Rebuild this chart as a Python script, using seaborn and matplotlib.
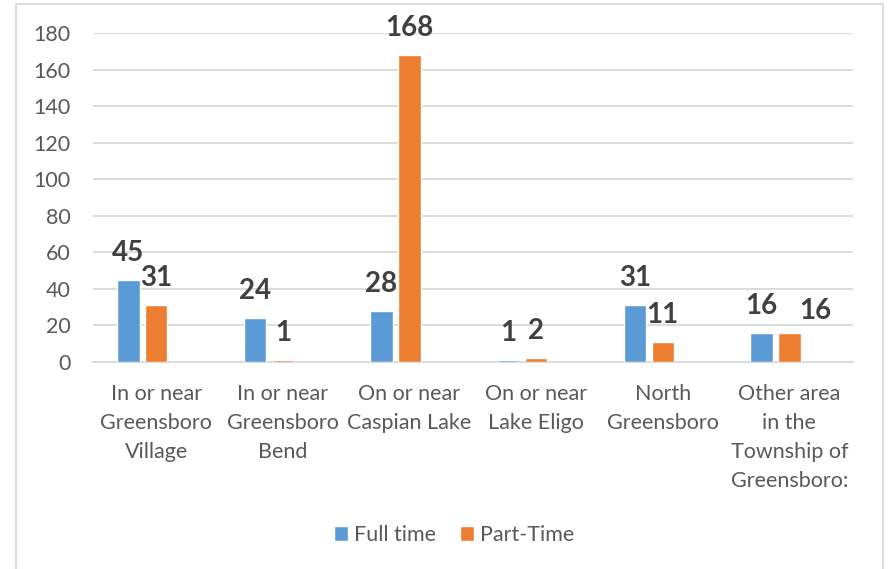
import numpy as np
import pandas as pd
import matplotlib
matplotlib.use("Agg")
import matplotlib.pyplot as plt
from matplotlib.patches import Rectangle
import seaborn as sns

categories = [
    "In or near\nGreensboro\nVillage",
    "In or near\nGreensboro\nBend",
    "On or near\nCaspian Lake",
    "On or near\nLake Eligo",
    "North\nGreensboro",
    "Other area\nin the\nTownship of\nGreensboro:",
]
full_time = [45, 24, 28, 1, 31, 16]
part_time = [31, 1, 168, 2, 11, 16]
series = ["Full time", "Part-Time", "_pad"]  # Excel leaves an empty third slot

sns.set_theme(style="white")
plt.rcParams["font.family"] = ["Lato", "DejaVu Sans"]

rows = []
for c, f, p in zip(categories, full_time, part_time):
    rows.append({"area": c, "series": "Full time", "count": f})
    rows.append({"area": c, "series": "Part-Time", "count": p})
    rows.append({"area": c, "series": "_pad", "count": np.nan})
df = pd.DataFrame(rows)

fig = plt.figure(figsize=(8.9, 5.69), dpi=100)
ax = fig.add_axes([0.1045, 0.3638, 0.8535, 0.5782])

sns.barplot(data=df, x="area", y="count", hue="series", hue_order=series,
            palette=["#5B9BD5", "#ED7D31", "#A5A5A5"], width=0.663, gap=0.2,
            order=categories, ax=ax, legend=True, saturation=1, zorder=3)

label_sets = []
for cont in ax.containers[:2]:
    label_sets.append(ax.bar_label(cont, padding=10, fontsize=20, fontweight="bold", color="#404040"))
# Excel nudged the last Part-Time label to the right so it does not clash
last = label_sets[1][-1]
last.xyann = (19, 6.5)

ax.set_ylim(0, 180)
ax.set_yticks(range(0, 181, 20))
ax.set_xlim(-0.5, len(categories) - 0.5)
ax.yaxis.grid(True, color="#d9d9d9", linewidth=1.3)
ax.set_axisbelow(True)
for s in ["top", "right", "left"]:
    ax.spines[s].set_visible(False)
ax.spines["bottom"].set_color("#d9d9d9")
ax.spines["bottom"].set_linewidth(1.3)
ax.spines["bottom"].set_zorder(1)
ax.tick_params(axis="both", length=0, labelsize=15.5, colors="#595959")
ax.tick_params(axis="y", pad=16)
ax.tick_params(axis="x", pad=16)
for t in ax.get_xticklabels():
    t.set_linespacing(1.55)
ax.set_xlabel("")
ax.set_ylabel("")

handles, labels = ax.get_legend_handles_labels()
ax.get_legend().remove()
fig.legend(handles[:2], labels[:2], loc="center", bbox_to_anchor=(454 / 890, 1 - 535 / 569),
           ncol=2, frameon=False, fontsize=15.5, handlelength=0.65, handleheight=0.65,
           handletextpad=0.3, columnspacing=1.1, labelcolor="#595959")

fig.patches.append(Rectangle((16 / 890, -0.02), 867 / 890, 1.02 - 4 / 569, transform=fig.transFigure,
                             fill=False, edgecolor="#d9d9d9", linewidth=1.3))

fig.savefig("out.png", dpi=100)
